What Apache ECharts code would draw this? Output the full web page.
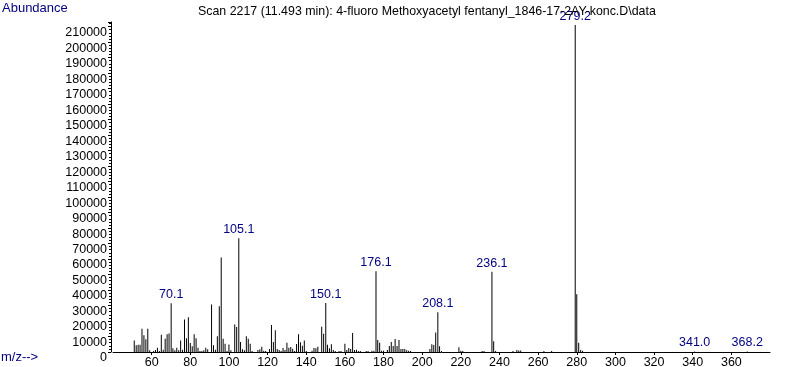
<!DOCTYPE html>
<html>
<head>
<meta charset="utf-8">
<script src="https://cdn.jsdelivr.net/npm/echarts@6/dist/echarts.min.js"></script>
<style>html,body{margin:0;padding:0;background:#fff}#c{width:787px;height:367px}</style>
</head>
<body>
<div id="c"></div>
<script>
const titleText = 'Scan 2217 (11.493 min): 4-fluoro Methoxyacetyl fentanyl_1846-17-2AY-konc.D\\data';
const yAxisName = 'Abundance';
const xAxisName = 'm/z-->';

const mz = [51,52,53,54,55,56,57,58,59,61,62,63,64,65,66,67,68,69,70.1,71,72,73,74,75,76,77,78,79,80,81,82,83,84,85,86,87,88,89,
  91,92,93,94,95,96,97,98,99,100,101,103,104,105.1,106,107,108,109,110,111,112,115,116,117,118,119,121,122,123,124,125,126,127,128,129,
  130,131,132,133,134,135,136,137,138,139,140,143,144,145,146,148,149,150.1,151,152,153,154,155,157,158,160,161,162,163,164,165,166,167,168,
  171,172,174,175,176.1,177,178,179,180,182,183,184,185,186,187,188,189,190,191,192,193,194,204,205,206,207,208.1,209,210,219,220,221,
  231,232,236.1,237,238,247,249,250,251,263,267,279.2,280,281,282,283,341.0,368.2];
const abundance = [7500,4300,4700,4700,15000,10800,8200,15000,1100,650,1300,2800,650,11200,1500,8600,11400,12000,31400,2400,1100,2800,1100,7500,1500,21000,8800,22400,5800,3700,11400,8800,2800,650,650,1100,2800,1700,
  30700,4300,1500,10100,29500,61000,8600,5400,650,4900,1100,17800,16100,73500,6500,1700,1100,10200,8500,5400,700,1300,1700,3400,800,600,1900,17400,6400,14000,1900,1300,700,2600,1300,
  6000,2800,3200,2100,700,5200,11500,6300,4000,7500,700,800,2600,2400,3400,16300,11800,31600,4700,2400,5000,1300,600,600,600,5400,1300,2600,2000,12300,1300,1500,600,600,
  600,600,800,800,52200,7700,6000,800,800,1300,3900,6500,3900,8400,3900,7700,1900,1900,1900,1100,860,600,2000,5000,4500,12600,25600,3700,700,3000,800,700,
  600,600,51800,6900,700,600,1300,1000,900,600,600,211000,37300,6000,1300,800,300,300];
const labeledPeaks = [70.1,105.1,150.1,176.1,208.1,236.1,279.2,341.0,368.2];

const blue = '#000080';
const font = "'Liberation Sans', Arial, sans-serif";

const data = mz.map((m, i) => {
  const item = { value: [m, abundance[i]] };
  if (labeledPeaks.indexOf(m) >= 0) {
    item.label = { show: true, formatter: m.toFixed(1) };
  }
  return item;
});

const chart = echarts.init(document.getElementById('c'), null, { renderer: 'canvas' });
chart.setOption({
  animation: false,
  backgroundColor: '#ffffff',
  title: [
    { text: titleText, left: 198, top: 6, padding: 0,
      textStyle: { fontFamily: font, fontSize: 12.4, fontWeight: 'normal', color: '#000' } },
    { text: yAxisName, left: 2, top: 2, padding: 0,
      textStyle: { fontFamily: font, fontSize: 13, fontWeight: 'normal', color: blue } },
    { text: xAxisName, left: 1, top: 351, padding: 0,
      textStyle: { fontFamily: font, fontSize: 13, fontWeight: 'normal', color: blue } }
  ],
  grid: { left: 113, right: 17, top: 22, bottom: 15, containLabel: false, outerBoundsMode: 'none' },
  xAxis: {
    type: 'value', min: 40, max: 380, interval: 20,
    axisLine: { show: true, lineStyle: { color: '#000', width: 1 } },
    axisTick: { show: true, length: 3, lineStyle: { color: '#000' } },
    axisLabel: { showMinLabel: false, showMaxLabel: false, margin: 4, color: '#000', fontFamily: font, fontSize: 12.5 },
    splitLine: { show: false }
  },
  yAxis: {
    type: 'value', min: 0, max: 213000, interval: 10000, offset: 2,
    axisLine: { show: true, lineStyle: { color: '#000', width: 1 } },
    axisTick: { show: true, length: 3, lineStyle: { color: '#000' } },
    minorTick: { show: true, splitNumber: 5, length: 2, lineStyle: { color: '#000' } },
    axisLabel: { showMaxLabel: false, margin: 4, color: '#000', fontFamily: font, fontSize: 12.5,
      verticalAlign: 'top', lineHeight: 12, formatter: v => String(v) },
    splitLine: { show: false }
  },
  series: [{
    type: 'bar',
    data: data,
    barWidth: 1,
    itemStyle: { color: '#000' },
    label: { show: false, position: 'top', distance: 2, color: blue, fontFamily: font, fontSize: 12.5 },
    labelLayout: { hideOverlap: false }
  }]
});
</script>
</body>
</html>
